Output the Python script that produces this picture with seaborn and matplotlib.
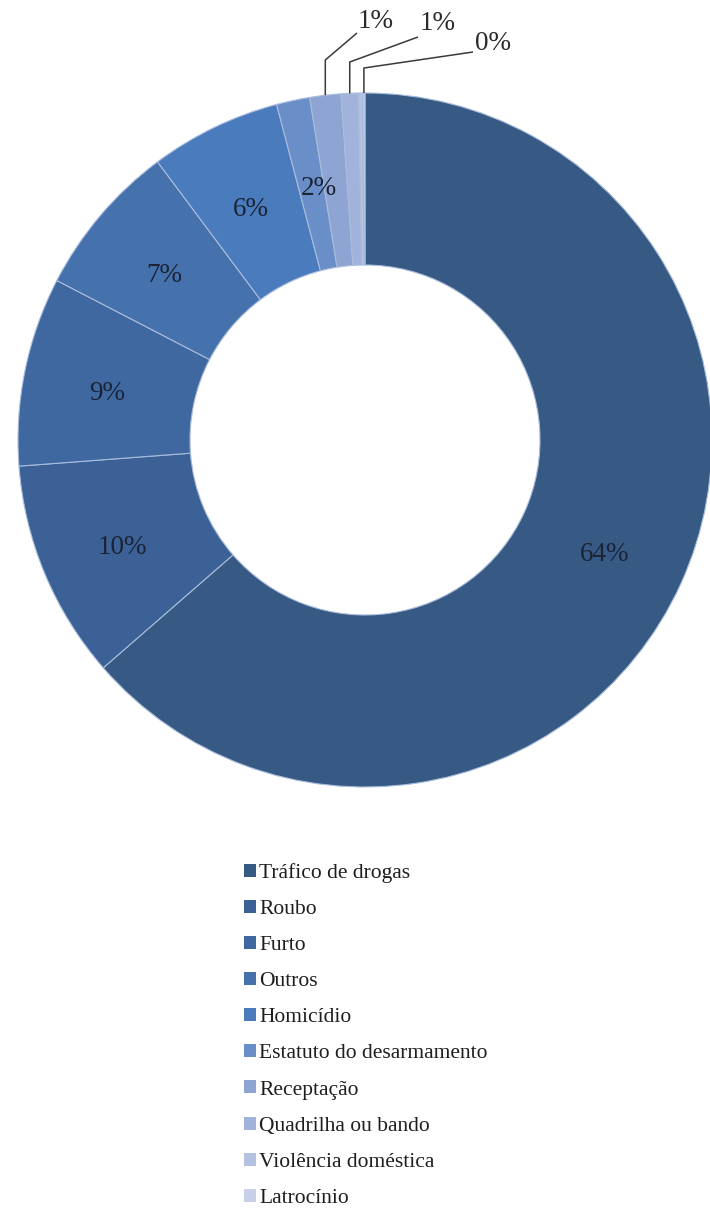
import numpy as np
import matplotlib
matplotlib.use("Agg")
import matplotlib.pyplot as plt
from matplotlib.patches import Patch
import seaborn as sns

# ---- data ----
categories = ["Tráfico de drogas", "Roubo", "Furto", "Outros", "Homicídio",
              "Estatuto do desarmamento", "Receptação", "Quadrilha ou bando",
              "Violência doméstica", "Latrocínio"]
values = [63.6, 10.2, 8.8, 7.2, 6.1, 1.55, 1.45, 0.8, 0.2, 0.1]
inside_labeled = [True, True, True, True, True, True, False, False, False, False]
outside_labeled = [False, False, False, False, False, False, True, True, False, True]

colors = ["#375a84", "#3b6196", "#3f68a1", "#4571ac", "#4a7bbd",
          "#6a8ec8", "#8ea4d2", "#a1b3da", "#b5c1e1", "#c7d0e8"]

sns.set_theme(style="white")
plt.rcParams['font.family'] = ['Liberation Serif', 'DejaVu Serif']

W, H = 710, 1209
fig = plt.figure(figsize=(W / 100, H / 100), dpi=100)
ax = fig.add_axes([0, 0, 1, 1])

cx, cy = 365, H - 440
R = 347
r_in = 175

wedges, _ = ax.pie(values, colors=colors, startangle=90, counterclock=False,
                   center=(cx, cy), radius=R,
                   wedgeprops=dict(width=R - r_in, edgecolor="#a9bcdc", linewidth=0.8))
ax.set_xlim(0, W)
ax.set_ylim(0, H)
ax.set_aspect("equal")
ax.axis("off")

def pct(v):
    return f"{int(round(v))}%"

r_lab = (R + r_in) / 2 + 2
for i, (w, v, lab) in enumerate(zip(wedges, values, inside_labeled)):
    if not lab:
        continue
    ang = np.deg2rad((w.theta1 + w.theta2) / 2)
    x = cx + r_lab * np.cos(ang)
    y = cy + r_lab * np.sin(ang) - 6
    if i == 5:
        x += 8
    ax.text(x, y, pct(v), ha="center", va="center", fontsize=19.5, color="#1b2436")

# outside labels with leader lines
out_pos = [(376, 22), (438, 23), (493, 44)]
knee_y = [60, 62, 68]
line_end = [(357, 33), (418, 37), (473, 52)]
k = 0
for w, v, lab in zip(wedges, values, outside_labeled):
    if not lab:
        continue
    ang = np.deg2rad((w.theta1 + w.theta2) / 2)
    x0 = cx + R * np.cos(ang)
    y0 = cy + R * np.sin(ang)
    ax.plot([x0, x0, line_end[k][0]], [y0, H - knee_y[k], H - line_end[k][1]],
            color="#3a3a3a", linewidth=1.1, solid_capstyle="butt")
    ax.text(out_pos[k][0], H - out_pos[k][1], pct(v), ha="center", va="center",
            fontsize=19.5, color="#2a2a2a")
    k += 1

handles = [Patch(facecolor=c, edgecolor="none") for c in colors]
leg = fig.legend(handles, categories, loc="upper left",
                 bbox_to_anchor=(244 / W, 1 - 863 / H), bbox_transform=fig.transFigure,
                 frameon=False, fontsize=15.5, handlelength=0.55, handleheight=0.55,
                 handletextpad=0.15, labelspacing=0.79, borderpad=0, borderaxespad=0)
for t in leg.get_texts():
    t.set_color("#1e1e1e")

fig.savefig("out.png", dpi=100, facecolor="white")
